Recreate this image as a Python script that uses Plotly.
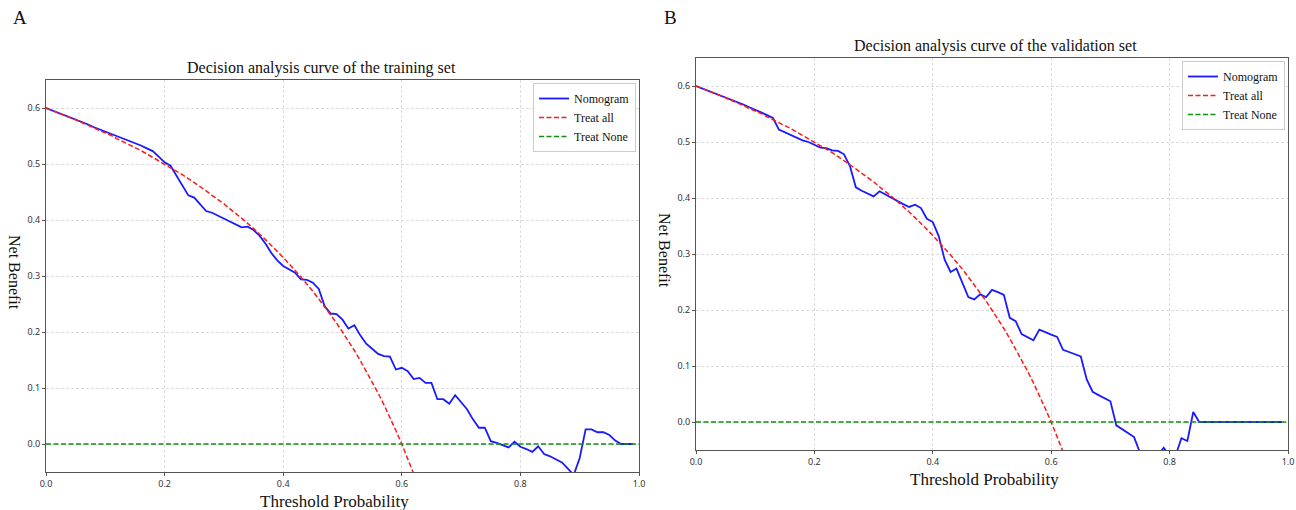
import plotly.graph_objects as go

# ---------------- data ----------------
THRESHOLDS = [0.00, 0.01, 0.02, 0.03, 0.04, 0.05, 0.06, 0.07, 0.08, 0.09,
              0.10, 0.11, 0.12, 0.13, 0.14, 0.15, 0.16, 0.17, 0.18, 0.19,
              0.20, 0.21, 0.22, 0.23, 0.24, 0.25, 0.26, 0.27, 0.28, 0.29,
              0.30, 0.31, 0.32, 0.33, 0.34, 0.35, 0.36, 0.37, 0.38, 0.39,
              0.40, 0.41, 0.42, 0.43, 0.44, 0.45, 0.46, 0.47, 0.48, 0.49,
              0.50, 0.51, 0.52, 0.53, 0.54, 0.55, 0.56, 0.57, 0.58, 0.59,
              0.60, 0.61, 0.62, 0.63, 0.64, 0.65, 0.66, 0.67, 0.68, 0.69,
              0.70, 0.71, 0.72, 0.73, 0.74, 0.75, 0.76, 0.77, 0.78, 0.79,
              0.80, 0.81, 0.82, 0.83, 0.84, 0.85, 0.86, 0.87, 0.88, 0.89,
              0.90, 0.91, 0.92, 0.93, 0.94, 0.95, 0.96, 0.97, 0.98, 0.99]

# Nomogram net benefit, training set (panel A)
NOMO_TRAIN = [0.600, 0.596, 0.592, 0.588, 0.584, 0.579, 0.575, 0.571, 0.566, 0.562,
              0.558, 0.553, 0.549, 0.545, 0.541, 0.538, 0.533, 0.528, 0.523, 0.513,
              0.503, 0.497, 0.479, 0.462, 0.444, 0.440, 0.427, 0.416, 0.413, 0.408,
              0.402, 0.398, 0.393, 0.387, 0.388, 0.382, 0.372, 0.358, 0.341, 0.328,
              0.318, 0.312, 0.306, 0.294, 0.293, 0.288, 0.277, 0.246, 0.233, 0.232,
              0.222, 0.206, 0.212, 0.194, 0.179, 0.170, 0.161, 0.157, 0.156, 0.133,
              0.136, 0.130, 0.116, 0.118, 0.109, 0.109, 0.080, 0.080, 0.072, 0.087,
              0.075, 0.062, 0.044, 0.029, 0.029, 0.005, 0.002, -0.002, -0.006, 0.004,
              -0.005, -0.009, -0.014, -0.004, -0.018, -0.022, -0.027, -0.033, -0.044, -0.055,
              -0.025, 0.026, 0.026, 0.021, 0.021, 0.016, 0.006, 0.000, 0.000, 0.000]

# Nomogram net benefit, validation set (panel B)
NOMO_VALID = [0.600, 0.596, 0.592, 0.588, 0.584, 0.580, 0.576, 0.571, 0.567, 0.562,
              0.558, 0.553, 0.548, 0.543, 0.522, 0.517, 0.512, 0.507, 0.503, 0.500,
              0.495, 0.490, 0.489, 0.485, 0.484, 0.478, 0.457, 0.419, 0.413, 0.408,
              0.403, 0.412, 0.406, 0.400, 0.394, 0.389, 0.384, 0.388, 0.382, 0.363,
              0.357, 0.332, 0.290, 0.268, 0.274, 0.247, 0.223, 0.219, 0.228, 0.223,
              0.236, 0.232, 0.227, 0.186, 0.180, 0.157, 0.152, 0.146, 0.165, 0.160,
              0.156, 0.152, 0.129, 0.125, 0.121, 0.117, 0.076, 0.054, 0.048, 0.043,
              0.037, -0.006, -0.013, -0.020, -0.027, -0.055, -0.070, -0.080, -0.060, -0.046,
              -0.060, -0.060, -0.029, -0.034, 0.018, 0.000, 0.000, 0.000, 0.000, 0.000,
              0.000, 0.000, 0.000, 0.000, 0.000, 0.000, 0.000, 0.000, 0.000, 0.000]

# Treat-all net benefit (prevalence 0.6), same for both panels
TREAT_ALL_X = THRESHOLDS[:63]
TREAT_ALL_Y = [0.600, 0.596, 0.592, 0.588, 0.583, 0.579, 0.574, 0.570, 0.565, 0.560,
               0.556, 0.551, 0.545, 0.540, 0.535, 0.529, 0.524, 0.518, 0.512, 0.506,
               0.500, 0.494, 0.487, 0.481, 0.474, 0.467, 0.459, 0.452, 0.444, 0.437,
               0.429, 0.420, 0.412, 0.403, 0.394, 0.385, 0.375, 0.365, 0.355, 0.344,
               0.333, 0.322, 0.310, 0.298, 0.286, 0.273, 0.259, 0.245, 0.231, 0.216,
               0.200, 0.184, 0.167, 0.149, 0.130, 0.111, 0.091, 0.070, 0.048, 0.024,
               0.000, -0.026, -0.053]

TREAT_NONE_X = [0.0, 1.0]
TREAT_NONE_Y = [0.0, 0.0]

X_TICKS = [0.0, 0.2, 0.4, 0.6, 0.8, 1.0]
Y_TICKS = [0.0, 0.1, 0.2, 0.3, 0.4, 0.5, 0.6]

PANEL_TITLES = ["Decision analysis curve of the training set",
                "Decision analysis curve of the validation set"]
PANEL_LETTERS = ["A", "B"]

# ---------------- figure ----------------
W, H = 1296, 510
SERIF = "Liberation Serif, Times New Roman, serif"
SANS = "Noto Sans, DejaVu Sans, sans-serif"
DASH = "5px,2.5px"

fig = go.Figure()

panels = [
    dict(nomo=NOMO_TRAIN, xa="x", ya="y", legend="legend"),
    dict(nomo=NOMO_VALID, xa="x2", ya="y2", legend="legend2"),
]
for p in panels:
    fig.add_trace(go.Scatter(x=THRESHOLDS, y=p["nomo"], mode="lines", name="Nomogram",
                             line=dict(color="#1a1aff", width=1.8),
                             xaxis=p["xa"], yaxis=p["ya"], legend=p["legend"]))
    fig.add_trace(go.Scatter(x=TREAT_ALL_X, y=TREAT_ALL_Y, mode="lines", name="Treat all",
                             line=dict(color="#ff1a1a", width=1.5, dash=DASH),
                             xaxis=p["xa"], yaxis=p["ya"], legend=p["legend"]))
    fig.add_trace(go.Scatter(x=TREAT_NONE_X, y=TREAT_NONE_Y, mode="lines", name="Treat None",
                             line=dict(color="#109010", width=1.5, dash=DASH),
                             xaxis=p["xa"], yaxis=p["ya"], legend=p["legend"]))

# pixel geometry of the two axes boxes
L = dict(x0=46, x1=639, top=80, bottom=472)
R = dict(x0=696, x1=1288, top=58, bottom=450)


def xd(b):
    return [b["x0"] / W, b["x1"] / W]


def yd(b):
    return [(H - b["bottom"]) / H, (H - b["top"]) / H]


axis_common = dict(
    showline=True, linecolor="#555555", linewidth=1.2, mirror=True, automargin=False,
    showgrid=True, gridcolor="#dddddd", gridwidth=1, griddash="3px,2px",
    zeroline=False, ticks="outside", ticklen=3, tickcolor="#555555",
    tickfont=dict(family=SANS, size=9, color="#333333"), tickformat=".1f",
)

fig.update_layout(
    width=W, height=H, margin=dict(l=0, r=0, t=0, b=0, autoexpand=False),
    paper_bgcolor="white", plot_bgcolor="white", showlegend=True,
    xaxis=dict(domain=xd(L), range=[0, 1], tickvals=X_TICKS, anchor="y", **axis_common),
    yaxis=dict(domain=yd(L), range=[-0.05, 0.65], tickvals=Y_TICKS, anchor="x", **axis_common),
    xaxis2=dict(domain=xd(R), range=[0, 1], tickvals=X_TICKS, anchor="y2", **axis_common),
    yaxis2=dict(domain=yd(R), range=[-0.05, 0.65], tickvals=Y_TICKS, anchor="x2", **axis_common),
)

legend_common = dict(
    xanchor="right", yanchor="top", bgcolor="white", bordercolor="#cccccc", borderwidth=1,
    font=dict(family=SERIF, size=12, color="#111111"), itemwidth=30,
    tracegroupgap=0, itemclick=False,
)
fig.update_layout(
    legend=dict(x=(L["x1"] - 3) / W, y=(H - L["top"] - 3) / H, **legend_common),
    legend2=dict(x=(R["x1"] - 3) / W, y=(H - R["top"] - 3) / H, **legend_common),
)

ann = []
for i, b in enumerate([L, R]):
    cx = (b["x0"] + b["x1"]) / 2
    ann.append(dict(text=PANEL_LETTERS[i], x=(b["x0"] - 26) / W, y=(H - 18) / H,
                    xref="paper", yref="paper", xanchor="center", yanchor="middle",
                    showarrow=False, font=dict(family=SERIF, size=19, color="#111111")))
    ann.append(dict(text=PANEL_TITLES[i], x=(cx - (21 if i == 0 else -3)) / W,
                    y=(H - (b["top"] - 12)) / H, xref="paper", yref="paper",
                    xanchor="center", yanchor="middle", showarrow=False,
                    font=dict(family=SERIF, size=16, color="#111111")))
    ann.append(dict(text="Threshold Probability", x=(cx - 8) / W, y=(H - (b["bottom"] + 29)) / H,
                    xref="paper", yref="paper", xanchor="center", yanchor="middle",
                    showarrow=False, font=dict(family=SERIF, size=17, color="#111111")))
    ann.append(dict(text="Net Benefit", x=(b["x0"] - 31) / W,
                    y=(H - ((b["top"] + b["bottom"]) / 2 - 4)) / H,
                    xref="paper", yref="paper", xanchor="center", yanchor="middle",
                    textangle=90, showarrow=False,
                    font=dict(family=SERIF, size=16, color="#111111")))
fig.update_layout(annotations=ann)

fig.write_html("out.html", config={"displayModeBar": False},
               post_script="document.body.style.margin='0px';document.body.style.overflow='hidden';")
